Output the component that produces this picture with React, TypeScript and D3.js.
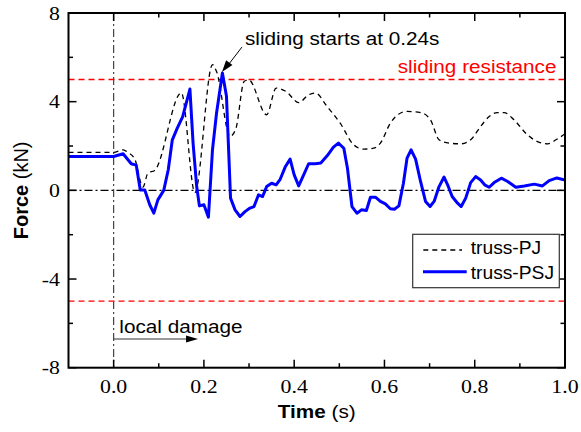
import React from 'react'
import * as d3 from 'd3'

// truss-PJ (dashed black)
const timePJ = [
  -0.1, 0.0, 0.021, 0.032, 0.047, 0.065, 0.076, 0.091, 0.150, 0.180,
  0.219, 0.228, 0.258, 0.271, 0.289, 0.299, 0.339, 0.360, 0.382, 0.410,
  0.432, 0.447, 0.473, 0.502, 0.532, 0.554, 0.576, 0.591, 0.613, 0.636,
  0.650, 0.680, 0.702, 0.721, 0.743, 0.769, 0.791, 0.813, 0.832, 0.850,
  0.865, 0.887, 0.917, 0.939, 0.962, 0.980, 1.0,
]
const forcePJ = [
  1.71, 1.71, 1.83, 1.71, 1.4, 0.15, 0.78, 0.9, 4.4, -0.1,
  5.67, 5.36, 2.43, 2.8, 4.91, 4.99, 3.41, 4.61, 4.46, 3.96,
  4.31, 4.39, 3.78, 3.03, 2.05, 1.86, 1.9, 2.13, 3.03, 3.49,
  3.56, 3.51, 3.18, 2.28, 2.13, 2.1, 2.28, 2.88, 3.33, 3.51,
  3.51, 3.18, 2.5, 2.2, 2.1, 2.28, 2.55,
]

// truss-PSJ (solid blue)
const timePSJ = [
  -0.1, 0.0, 0.021, 0.039, 0.050, 0.059, 0.069, 0.080, 0.089, 0.098,
  0.111, 0.121, 0.130, 0.141, 0.153, 0.169, 0.176, 0.184, 0.190, 0.200,
  0.210, 0.219, 0.228, 0.241, 0.250, 0.259, 0.269, 0.280, 0.291, 0.302,
  0.311, 0.321, 0.330, 0.339, 0.350, 0.360, 0.369, 0.380, 0.391, 0.400,
  0.410, 0.421, 0.432, 0.447, 0.459, 0.473, 0.487, 0.498, 0.510, 0.518,
  0.528, 0.539, 0.549, 0.560, 0.569, 0.580, 0.591, 0.602, 0.613, 0.622,
  0.632, 0.642, 0.650, 0.659, 0.669, 0.680, 0.691, 0.701, 0.710, 0.721,
  0.732, 0.741, 0.750, 0.762, 0.770, 0.780, 0.791, 0.802, 0.813, 0.822,
  0.832, 0.843, 0.859, 0.873, 0.891, 0.910, 0.932, 0.950, 0.965, 0.982,
  1.0,
]
const forcePSJ = [
  1.53, 1.53, 1.65, 1.2, 1.14, 0.02, 0.02, -0.65, -1.03, -0.43,
  0.0, 0.93, 2.28, 2.81, 3.33, 4.57, 2.13, 0.17, -0.70, -0.65,
  -1.21, 1.83, 3.49, 5.29, 4.24, -0.35, -0.88, -1.18, -0.96, -0.80,
  -0.73, -0.2, -0.28, 0.17, 0.32, 0.25, 0.5, 1.05, 1.41, 0.7,
  0.2, 0.7, 1.2, 1.2, 1.23, 1.56, 1.95, 2.13, 1.9, 1.0,
  -0.73, -1.03, -0.88, -0.91, -0.31, -0.31, -0.5, -0.61, -0.83, -0.85,
  -0.70, 0.32, 1.45, 1.83, 1.41, 0.4, -0.5, -0.73, -0.5, 0.17,
  0.6, 0.2, -0.28, -0.58, -0.73, -0.35, 0.35, 0.62, 0.47, 0.25,
  0.14, 0.35, 0.55, 0.4, 0.14, 0.2, 0.28, 0.2, 0.44, 0.56,
  0.47,
]

const xTicks = [0.0, 0.2, 0.4, 0.6, 0.8, 1.0]
const xMinor = [0.1, 0.3, 0.5, 0.7, 0.9]
const yTicks = [-8, -4, 0, 4, 8]
const yMinor = [-6, -2, 2, 6]
const resistance = 5
const slideTime = 0.24
const slidePeak = 5.29
const seriesNames = ['truss-PJ', 'truss-PSJ']

const W = 581, H = 432
const L = 68.5, R = 565, T = 13, B = 367.7
const SX = 1.12 // the original picture is a bit wider than tall

const sans = 'Arial, "Liberation Sans", sans-serif'
const serif = '"Times New Roman", "Liberation Serif", serif'

function SText(props: any) {
  const { x, y, size = 18.5, font = sans, anchor = 'start', fill = '#000', children, weight, sx = SX } = props
  return (
    <text transform={`translate(${x},${y}) scale(${sx},1)`} fontSize={size} fontFamily={font}
      textAnchor={anchor} fill={fill} fontWeight={weight}>{children}</text>
  )
}

export default function App() {
  const x = d3.scaleLinear().domain([-0.1, 1.0]).range([L, R])
  const y = d3.scaleLinear().domain([-8, 8]).range([B, T])

  const pj = timePJ.map((t, i) => [t, forcePJ[i]] as [number, number])
  const psj = timePSJ.map((t, i) => [t, forcePSJ[i]] as [number, number])

  const linePJ = d3.line<[number, number]>().x(d => x(d[0])).y(d => y(d[1])).curve(d3.curveMonotoneX)
  const linePSJ = d3.line<[number, number]>().x(d => x(d[0])).y(d => y(d[1]))

  // annotation arrow pointing at the sliding peak
  const px = x(slideTime), py = y(slidePeak)
  const ax = px + 20, ay = py - 26
  const ang = Math.atan2(py - ay, px - ax)
  const head = (hx: number, hy: number, a: number, len: number, w: number) => {
    const bx = hx - len * Math.cos(a), by = hy - len * Math.sin(a)
    const nx = -Math.sin(a) * w, ny = Math.cos(a) * w
    return `M${hx},${hy}L${bx + nx},${by + ny}L${bx - nx},${by - ny}Z`
  }

  const dmgY = 339
  const dmgX0 = x(0), dmgX1 = x(0.187)

  return (
    <div style={{ position: 'absolute', left: 0, top: 0 }}>
      <svg width={W} height={H} style={{ display: 'block', background: '#fff' }}>
        <defs>
          <clipPath id="plot"><rect x={L} y={T} width={R - L} height={B - T} /></clipPath>
        </defs>

        {/* reference lines */}
        <line x1={L} x2={R} y1={y(0)} y2={y(0)} stroke="#000" strokeWidth={1.2} strokeDasharray="8,3,2,3" />
        <line x1={x(0)} x2={x(0)} y1={T} y2={B} stroke="#444" strokeWidth={1.2} strokeDasharray="8,3,2,3" />
        <line x1={L} x2={R} y1={y(resistance)} y2={y(resistance)} stroke="#ff0000" strokeWidth={1.3} strokeDasharray="6,4" />
        <line x1={L} x2={R} y1={y(-resistance)} y2={y(-resistance)} stroke="#ff0000" strokeWidth={1.3} strokeDasharray="6,4" />

        <g clipPath="url(#plot)">
          <path d={linePJ(pj) || ''} fill="none" stroke="#000" strokeWidth={1.3} strokeDasharray="5,4" />
          <path d={linePSJ(psj) || ''} fill="none" stroke="#0000ff" strokeWidth={3} strokeLinejoin="round" />
        </g>

        {/* frame and ticks */}
        <rect x={L} y={T} width={R - L} height={B - T} fill="none" stroke="#000" strokeWidth={2} />
        {xTicks.map(t => (
          <g key={'xt' + t}>
            <line x1={x(t)} x2={x(t)} y1={B} y2={B - 8} stroke="#000" strokeWidth={1.5} />
            <line x1={x(t)} x2={x(t)} y1={T} y2={T + 8} stroke="#000" strokeWidth={1.5} />
            <SText x={x(t)} y={393} size={19.5} font={serif} anchor="middle">{d3.format('.1f')(t)}</SText>
          </g>
        ))}
        {xMinor.map(t => (
          <g key={'xm' + t}>
            <line x1={x(t)} x2={x(t)} y1={B} y2={B - 4.5} stroke="#000" strokeWidth={1.5} />
            <line x1={x(t)} x2={x(t)} y1={T} y2={T + 4.5} stroke="#000" strokeWidth={1.5} />
          </g>
        ))}
        {yTicks.map(v => (
          <g key={'yt' + v}>
            <line x1={L} x2={L + 8} y1={y(v)} y2={y(v)} stroke="#000" strokeWidth={1.5} />
            <line x1={R} x2={R - 8} y1={y(v)} y2={y(v)} stroke="#000" strokeWidth={1.5} />
            <SText x={60} y={y(v) + 6.6} size={19.5} font={serif} anchor="end">{String(v)}</SText>
          </g>
        ))}
        {yMinor.map(v => (
          <g key={'ym' + v}>
            <line x1={L} x2={L + 4.5} y1={y(v)} y2={y(v)} stroke="#000" strokeWidth={1.5} />
            <line x1={R} x2={R - 4.5} y1={y(v)} y2={y(v)} stroke="#000" strokeWidth={1.5} />
          </g>
        ))}

        {/* axis titles */}
        <SText x={(L + R) / 2} y={418} anchor="middle">
          <tspan fontWeight="bold">Time</tspan> (s)
        </SText>
        <text transform={`translate(28,${(T + B) / 2}) rotate(-90)`} fontSize={20} fontFamily={sans} textAnchor="middle">
          <tspan fontWeight="bold">Force</tspan> (kN)
        </text>

        {/* annotations */}
        <SText x={R - 8.5} y={73} fill="#ff0000" anchor="end">sliding resistance</SText>
        <SText x={245} y={45}>sliding starts at 0.24s</SText>
        <line x1={ax} y1={ay} x2={px + 9 * Math.cos(ang + Math.PI) * 0.9} y2={py - 9 * Math.sin(ang) * 0.9} stroke="#000" strokeWidth={1} />
        <path d={head(px, py - 1, ang, 12, 4)} fill="#000" />

        <SText x={119.3} y={333}>local damage</SText>
        <line x1={dmgX0} x2={dmgX1 - 10} y1={dmgY} y2={dmgY} stroke="#333" strokeWidth={1} />
        <path d={head(dmgX1, dmgY, 0, 12, 3.5)} fill="#000" />

        {/* legend */}
        <rect x={412.7} y={234.3} width={146.6} height={53.4} fill="#fff" stroke="#333" strokeWidth={1.2} />
        <line x1={423.3} x2={462} y1={250} y2={250} stroke="#000" strokeWidth={1.3} strokeDasharray="5,4" />
        <SText x={470.7} y={254.3} size={17.5} sx={1.1}>{seriesNames[0]}</SText>
        <line x1={423} x2={466.7} y1={271.7} y2={271.7} stroke="#0000ff" strokeWidth={3} />
        <SText x={470.7} y={279.3} size={17.5} sx={1.1}>{seriesNames[1]}</SText>
      </svg>
    </div>
  )
}
